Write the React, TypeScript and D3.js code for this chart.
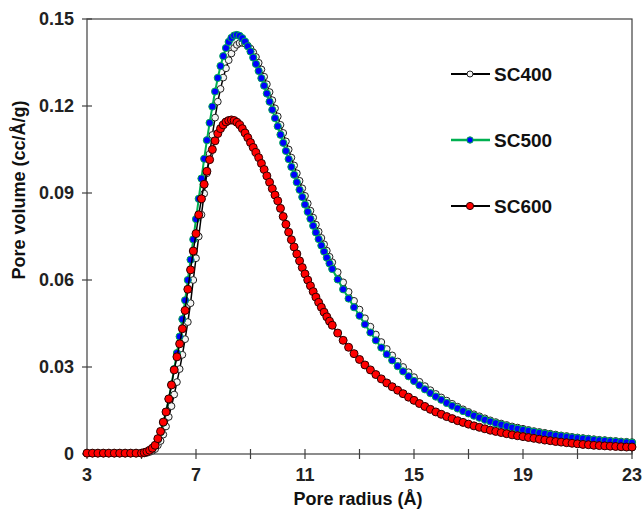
import React from 'react';
import * as d3 from 'd3';

// pore radius (Å) – coarse at both ends, finer across the peak
const radius = [
  3.0, 3.2, 3.4, 3.6, 3.8, 4.0, 4.2, 4.4, 4.6, 4.8, 5.0,
  5.1, 5.2, 5.3, 5.4, 5.5, 5.6, 5.7, 5.8, 5.9, 6.0,
  6.1, 6.2, 6.3, 6.4, 6.5, 6.6, 6.7, 6.8, 6.9, 7.0,
  7.1, 7.2, 7.3, 7.4, 7.5, 7.6, 7.7, 7.8, 7.9, 8.0,
  8.1, 8.2, 8.3, 8.4, 8.5, 8.6, 8.7, 8.8, 8.9, 9.0,
  9.1, 9.2, 9.3, 9.4, 9.5, 9.6, 9.7, 9.8, 9.9, 10.0,
  10.1, 10.2, 10.3, 10.4, 10.5, 10.6, 10.7, 10.8, 10.9, 11.0,
  11.1, 11.2, 11.3, 11.4, 11.5, 11.6, 11.7, 11.8, 11.9, 12.0,
  12.2, 12.4, 12.6, 12.8, 13.0, 13.2, 13.4, 13.6, 13.8, 14.0,
  14.2, 14.4, 14.6, 14.8, 15.0, 15.2, 15.4, 15.6, 15.8, 16.0,
  16.2, 16.4, 16.6, 16.8, 17.0, 17.2, 17.4, 17.6, 17.8, 18.0,
  18.2, 18.4, 18.6, 18.8, 19.0, 19.2, 19.4, 19.6, 19.8, 20.0,
  20.2, 20.4, 20.6, 20.8, 21.0, 21.2, 21.4, 21.6, 21.8, 22.0,
  22.2, 22.4, 22.6, 22.8, 23.0,
];

const sc400 = [
  0.0002, 0.0002, 0.0002, 0.0002, 0.0002, 0.0002, 0.0002, 0.0002, 0.0002, 0.0002, 0.0002,
  0.0002, 0.0004, 0.0007, 0.0011, 0.0017, 0.0030, 0.0045, 0.0067, 0.0095, 0.0128,
  0.0165, 0.0205, 0.0248, 0.0293, 0.0342, 0.0396, 0.0455, 0.0520, 0.0600, 0.0675,
  0.0750, 0.0825, 0.0898, 0.0968, 0.1035, 0.1100, 0.1160, 0.1215, 0.1259, 0.1298,
  0.1330, 0.1358, 0.1381, 0.1400, 0.1411, 0.1417, 0.1418, 0.1415, 0.1408, 0.1398,
  0.1385, 0.1369, 0.1349, 0.1326, 0.1301, 0.1275, 0.1248, 0.1220, 0.1192, 0.1164,
  0.1135, 0.1107, 0.1078, 0.1050, 0.1022, 0.0995, 0.0968, 0.0942, 0.0916, 0.0890,
  0.0864, 0.0839, 0.0815, 0.0791, 0.0767, 0.0745, 0.0723, 0.0701, 0.0680, 0.0661,
  0.0627, 0.0592, 0.0559, 0.0528, 0.0498, 0.0468, 0.0439, 0.0412, 0.0386, 0.0362,
  0.0340, 0.0319, 0.0300, 0.0282, 0.0265, 0.0249, 0.0234, 0.0220, 0.0207, 0.0195,
  0.0184, 0.0173, 0.0163, 0.0154, 0.0145, 0.0137, 0.0130, 0.0123, 0.0116, 0.0110,
  0.0105, 0.0100, 0.0095, 0.0091, 0.0087, 0.0083, 0.0079, 0.0076, 0.0073, 0.0070,
  0.0067, 0.0064, 0.0062, 0.0059, 0.0057, 0.0055, 0.0053, 0.0051, 0.0049, 0.0048,
  0.0046, 0.0045, 0.0043, 0.0042, 0.0041,
];

const sc500 = [
  0.0003, 0.0003, 0.0003, 0.0003, 0.0003, 0.0003, 0.0003, 0.0003, 0.0003, 0.0003, 0.0003,
  0.0005, 0.0008, 0.0013, 0.0020, 0.0030, 0.0050, 0.0075, 0.0108, 0.0145, 0.0190,
  0.0240, 0.0293, 0.0348, 0.0405, 0.0465, 0.0530, 0.0600, 0.0670, 0.0740, 0.0810,
  0.0880, 0.0950, 0.1018, 0.1082, 0.1142, 0.1198, 0.1250, 0.1297, 0.1338, 0.1372,
  0.1400, 0.1421, 0.1435, 0.1443, 0.1445, 0.1442, 0.1434, 0.1422, 0.1406, 0.1388,
  0.1367, 0.1345, 0.1321, 0.1296, 0.1270, 0.1243, 0.1215, 0.1187, 0.1158, 0.1130,
  0.1101, 0.1073, 0.1045, 0.1017, 0.0990, 0.0963, 0.0937, 0.0911, 0.0886, 0.0860,
  0.0835, 0.0811, 0.0787, 0.0764, 0.0741, 0.0719, 0.0698, 0.0677, 0.0657, 0.0638,
  0.0602, 0.0568, 0.0536, 0.0506, 0.0477, 0.0447, 0.0419, 0.0392, 0.0367, 0.0344,
  0.0323, 0.0303, 0.0285, 0.0268, 0.0252, 0.0237, 0.0223, 0.0210, 0.0198, 0.0187,
  0.0176, 0.0166, 0.0157, 0.0148, 0.0140, 0.0132, 0.0125, 0.0118, 0.0112, 0.0106,
  0.0101, 0.0096, 0.0091, 0.0087, 0.0083, 0.0080, 0.0076, 0.0073, 0.0070, 0.0067,
  0.0064, 0.0062, 0.0059, 0.0057, 0.0055, 0.0053, 0.0051, 0.0049, 0.0047, 0.0046,
  0.0044, 0.0043, 0.0041, 0.0040, 0.0039,
];

const sc600 = [
  0.0003, 0.0003, 0.0003, 0.0003, 0.0003, 0.0003, 0.0003, 0.0003, 0.0003, 0.0003, 0.0003,
  0.0005, 0.0008, 0.0013, 0.0020, 0.0030, 0.0053, 0.0078, 0.0110, 0.0145, 0.0190,
  0.0238, 0.0290, 0.0335, 0.0380, 0.0432, 0.0495, 0.0568, 0.0635, 0.0700, 0.0760,
  0.0825, 0.0880, 0.0930, 0.0975, 0.1015, 0.1050, 0.1080, 0.1105, 0.1122, 0.1135,
  0.1145, 0.1150, 0.1152, 0.1150, 0.1144, 0.1135, 0.1122, 0.1107, 0.1091, 0.1074,
  0.1057, 0.1040, 0.1022, 0.1002, 0.0981, 0.0959, 0.0937, 0.0915, 0.0893, 0.0873,
  0.0847, 0.0819, 0.0792, 0.0765, 0.0739, 0.0714, 0.0690, 0.0666, 0.0643, 0.0621,
  0.0600, 0.0580, 0.0560, 0.0541, 0.0523, 0.0506, 0.0489, 0.0473, 0.0458, 0.0444,
  0.0417, 0.0392, 0.0368, 0.0346, 0.0326, 0.0307, 0.0290, 0.0274, 0.0259, 0.0245,
  0.0232, 0.0220, 0.0208, 0.0196, 0.0185, 0.0174, 0.0164, 0.0154, 0.0145, 0.0137,
  0.0129, 0.0122, 0.0115, 0.0109, 0.0103, 0.0097, 0.0092, 0.0087, 0.0082, 0.0078,
  0.0074, 0.0070, 0.0066, 0.0063, 0.0060, 0.0057, 0.0054, 0.0051, 0.0048, 0.0046,
  0.0043, 0.0041, 0.0039, 0.0037, 0.0035, 0.0033, 0.0032, 0.0030, 0.0029, 0.0028,
  0.0027, 0.0026, 0.0025, 0.0024, 0.0024,
];

const yTicks = [0, 0.03, 0.06, 0.09, 0.12, 0.15];
const yTickLabels = ['0', '0.03', '0.06', '0.09', '0.12', '0.15'];
const xTicks = [3, 7, 11, 15, 19, 23];
const xMinorTicks = [5, 9, 13, 17, 21];

const font = 'Liberation Sans, Arial, sans-serif';
const axisColor = '#404040';

const series = [
  { name: 'SC400', values: sc400, line: '#000000', lineWidth: 1.5, fill: '#f4f4f4', stroke: '#222222', r: 3.4 },
  { name: 'SC500', values: sc500, line: '#00b050', lineWidth: 2, fill: '#0000ff', stroke: '#00b050', r: 3.6 },
  { name: 'SC600', values: sc600, line: '#000000', lineWidth: 1.5, fill: '#ff0000', stroke: '#2a0000', r: 4 },
];

const App = () => {
  const width = 644, height = 514;
  const x = d3.scaleLinear().domain([3, 23]).range([87, 632]);
  const y = d3.scaleLinear().domain([0, 0.15]).range([454, 19]);

  const line = d3.line<number>()
    .x((d, i) => x(radius[i]))
    .y(d => y(d));

  const [x0, x1] = x.range();
  const [y0, y1] = y.range();

  return (
    <div style={{ position: 'absolute', left: 0, top: 0 }}>
      <svg width={width} height={height} style={{ display: 'block', background: '#fff' }}>
        {/* plot frame */}
        <rect x={x0} y={y1} width={x1 - x0} height={y0 - y1} fill="none" stroke={axisColor} strokeWidth={1.2} />

        {/* y ticks */}
        {yTicks.map((t, i) => (
          <g key={'y' + t}>
            <line x1={x0 - 5} x2={x0 + 5} y1={y(t)} y2={y(t)} stroke={axisColor} strokeWidth={1.2} />
            <text x={x0 - 13} y={y(t)} dy="0.36em" textAnchor="end" fontFamily={font} fontWeight="bold"
              fontSize={18} fill="#222">{yTickLabels[i]}</text>
          </g>
        ))}

        {/* x ticks */}
        {xTicks.concat(xMinorTicks).map(t => (
          <line key={'xt' + t} x1={x(t)} x2={x(t)} y1={y0 - 5} y2={y0 + 5} stroke={axisColor} strokeWidth={1.2} />
        ))}
        {xTicks.map(t => (
          <text key={'xl' + t} x={x(t)} y={y0 + 27} textAnchor="middle" fontFamily={font} fontWeight="bold"
            fontSize={18} fill="#222">{t}</text>
        ))}

        {/* series: line, then markers */}
        {series.map(s => (
          <g key={s.name}>
            <path d={line(s.values) || ''} fill="none" stroke={s.line} strokeWidth={s.lineWidth} />
            {s.values.map((v, i) => (
              <circle key={i} cx={x(radius[i])} cy={y(v)} r={s.r} fill={s.fill} stroke={s.stroke} strokeWidth={1} />
            ))}
          </g>
        ))}

        {/* legend */}
        {series.map((s, i) => {
          const ly = 74 + i * 66;
          return (
            <g key={'lg' + s.name}>
              <line x1={451} x2={490} y1={ly} y2={ly} stroke={s.line} strokeWidth={s.lineWidth + 0.5} />
              <circle cx={470} cy={ly} r={s.r - 0.4} fill={s.fill} stroke={s.stroke} strokeWidth={1} />
              <text x={494} y={ly} dy="0.36em" fontFamily={font} fontWeight="bold" fontSize={19} fill="#111">{s.name}</text>
            </g>
          );
        })}

        {/* axis titles */}
        <text x={358} y={505} textAnchor="middle" fontFamily={font} fontWeight="bold" fontSize={18}
          fill="#111">Pore radius (Å)</text>
        <text transform="translate(25, 190) rotate(-90)" textAnchor="middle" fontFamily={font}
          fontWeight="bold" fontSize={18} fill="#111">Pore volume (cc/Å/g)</text>
      </svg>
    </div>
  );
};

export default App;
